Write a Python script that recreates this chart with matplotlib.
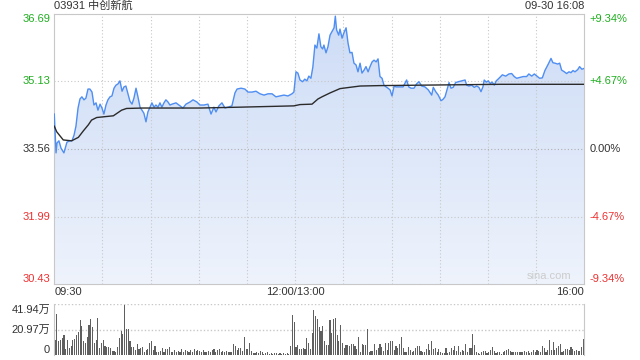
import numpy as np
import matplotlib
matplotlib.use("Agg")
import matplotlib.pyplot as plt
from matplotlib.colors import LinearSegmentedColormap
from matplotlib.transforms import blended_transform_factory

plt.rcParams['font.family'] = ['Liberation Sans', 'Noto Sans CJK SC', 'DejaVu Sans']

# ---- data ----
title = "03931 中创新航"
stamp = "09-30 16:08"
prev_close = 33.56
price_ticks = [36.69, 35.13, 33.56, 31.99, 30.43]
pct_labels = ["+9.34%", "+4.67%", "0.00%", "-4.67%", "-9.34%"]
time_labels = ["09:30", "12:00/13:00", "16:00"]
vol_ticks = [41.94, 20.97, 0]
vol_labels = ["41.94万", "20.97万", "0"]

# minutes since open (trading minutes, lunch removed) and last price
px_minute = [0, 1.1, 1.7, 2.9, 4.2, 6.0, 7.9, 9.8, 11.0, 12.3, 13.5, 14.8, 16.0, 17.2,
             18.5, 19.7, 21.0, 22.2, 23.5, 24.7, 26.0, 27.2, 28.5, 29.7, 30.9, 32.2,
             33.4, 34.7, 35.9, 37.2, 38.4, 39.7, 40.9, 42.2, 43.4, 44.6, 45.9, 47.1,
             48.4, 49.6, 50.9, 52.1, 53.4, 54.6, 55.8, 57.1, 58.3, 59.6, 60.8, 62.1,
             63.3, 64.6, 65.8, 67.0, 68.3, 69.5, 70.8, 72.0, 73.3, 75.8, 78.3, 80.1,
             82.0, 84.5, 86.4, 88.8, 90.7, 93.2, 95.7, 97.6, 99.4, 100.7, 102.5, 104.4,
             106.3, 108.2, 110.6, 112.5, 113.8, 116.3, 118.7, 120.6, 123.1, 125.6,
             128.1, 130.6, 133.1, 135.6, 138.0, 140.5, 143.0, 145.5, 148.0, 149.2,
             150.5, 151.7, 153.0, 154.6, 156.0, 157.3, 158.5, 159.8, 161.0, 162.3,
             163.5, 164.8, 166.0, 167.1, 167.9, 169.2, 170.4, 171.7, 172.9, 174.2,
             175.0, 175.8, 177.1, 177.9, 179.2, 180.4, 181.7, 182.9, 184.1, 185.4,
             186.6, 187.9, 189.1, 190.4, 191.6, 192.9, 194.1, 195.4, 196.6, 197.9,
             199.1, 200.4, 201.6, 202.8, 204.1, 205.3, 206.6, 207.8, 209.1, 210.3,
             211.6, 212.8, 215.3, 217.2, 219.4, 220.7, 222.1, 224.0, 225.6, 227.1,
             228.8, 230.8, 232.9, 235.0, 236.0, 237.5, 239.1, 240.8, 242.0, 243.3,
             244.5, 245.8, 247.0, 248.4, 249.9, 251.6, 253.7, 255.8, 256.8, 258.2,
             259.9, 261.5, 263.0, 264.4, 265.7, 266.9, 267.7, 269.0, 270.2, 271.5,
             272.7, 274.0, 275.2, 276.9, 279.0, 281.1, 283.1, 284.8, 286.4, 287.9,
             290.0, 292.0, 294.1, 295.5, 297.3, 298.9, 300.6, 302.2, 303.9, 305.5,
             307.6, 309.3, 310.5, 311.8, 313.4, 314.7, 315.9, 317.6, 319.0, 320.5,
             321.7, 323.0, 324.2, 325.9, 327.1, 328.5, 330]
px_price = [34.37, 33.47, 33.70, 33.75, 33.58, 33.47, 33.72, 33.75, 33.75, 33.88, 34.09,
            34.51, 34.72, 34.77, 34.70, 34.74, 34.95, 34.95, 34.88, 34.58, 34.63, 34.46,
            34.60, 34.51, 34.37, 34.58, 34.70, 34.77, 34.79, 34.97, 35.04, 35.07, 35.14,
            34.90, 35.00, 35.02, 34.84, 34.67, 34.60, 34.74, 34.97, 34.77, 34.53, 34.46,
            34.39, 34.19, 34.42, 34.53, 34.63, 34.53, 34.58, 34.53, 34.63, 34.53, 34.63,
            34.70, 34.65, 34.58, 34.60, 34.63, 34.56, 34.51, 34.60, 34.65, 34.70, 34.65,
            34.58, 34.58, 34.60, 34.37, 34.53, 34.42, 34.56, 34.63, 34.51, 34.53, 34.56,
            34.86, 34.95, 34.97, 34.95, 34.88, 34.88, 34.90, 34.84, 34.81, 34.84, 34.84,
            34.77, 34.79, 34.81, 34.79, 34.84, 34.88, 35.35, 35.32, 35.16, 35.12, 35.18,
            35.14, 35.25, 35.20, 35.46, 35.97, 35.90, 36.23, 35.93, 35.88, 35.97, 35.79,
            35.93, 36.20, 36.28, 36.37, 36.64, 36.32, 36.20, 36.34, 36.13, 36.26, 36.37,
            36.02, 35.79, 35.80, 35.55, 35.51, 35.35, 35.55, 35.32, 35.39, 35.47, 35.35,
            35.47, 35.58, 35.62, 35.58, 35.65, 35.24, 35.20, 35.04, 35.00, 34.97, 34.93,
            34.79, 35.02, 35.00, 35.00, 35.00, 35.16, 35.00, 34.97, 34.97, 35.07, 35.12,
            35.02, 35.00, 34.93, 34.81, 34.99, 34.89, 34.81, 34.68, 34.71, 34.77, 34.93,
            35.10, 34.97, 34.99, 35.10, 35.12, 35.14, 35.16, 35.04, 35.02, 35.04, 34.99,
            35.02, 34.99, 34.89, 35.00, 35.16, 35.11, 35.14, 35.08, 35.11, 35.04, 35.14,
            35.20, 35.28, 35.25, 35.30, 35.31, 35.24, 35.20, 35.22, 35.24, 35.24, 35.30,
            35.25, 35.30, 35.25, 35.20, 35.21, 35.38, 35.53, 35.66, 35.56, 35.55, 35.53,
            35.55, 35.39, 35.35, 35.31, 35.35, 35.33, 35.38, 35.35, 35.40, 35.47, 35.41,
            35.43]

# average price line
avg_minute = [0, 1.5, 5.6, 10.8, 15.0, 18.1, 21.2, 23.2, 26.4, 36.8, 41.9, 45.0, 55.0,
              90.7, 115.6, 149.2, 153.0, 160.5, 164.2, 166.7, 171.7, 177.9, 184.1,
              190.4, 202.8, 227.7, 277.5, 330]
avg_price = [34.09, 33.96, 33.77, 33.75, 33.83, 33.98, 34.12, 34.23, 34.29, 34.33, 34.46,
             34.50, 34.51, 34.51, 34.53, 34.56, 34.59, 34.60, 34.72, 34.77, 34.86, 34.96,
             34.99, 35.02, 35.03, 35.04, 35.06, 35.06]

# volume (10k shares), evenly spread across the session
volume = [12.4, 34, 11.9, 12.4, 13.8, 16.6, 4.7, 12.4, 5.5, 7.5, 12.4, 13, 16.6, 19.3, 29,
          24, 11.9, 10.2, 15.2, 24.8, 29.8, 23.5, 9.7, 12.4, 30.4, 5.5, 10.2, 12.4, 7.5,
          6.9, 6.9, 5.5, 3.3, 3.3, 2.8, 6.9, 13.8, 19.9, 17.4, 41.4, 21.3, 21.3, 11.9,
          6.3, 6.9, 4.1, 9.1, 4.7, 5.5, 6.3, 2.8, 4.1, 4.7, 10.2, 11.9, 4.1, 7.5, 2.8,
          2.2, 3.3, 5.5, 2.8, 4.7, 4.7, 6.9, 2.8, 2.2, 4.1, 2.8, 3.3, 2.2, 4.7, 2.8, 4.1,
          3.3, 2.8, 4.1, 2.8, 4.7, 3.6, 4.1, 3.3, 2.8, 4.1, 2.8, 2.2, 3.6, 2.8, 4.1, 4.7,
          2.8, 4.1, 4.7, 2.2, 3.3, 2.2, 3.3, 2.2, 2.8, 2.8, 9.1, 7.5, 4.1, 5.5, 5.5, 3.6,
          14.6, 4.7, 4.7, 10.2, 3.3, 1.9, 1.9, 2.2, 1.9, 3.3, 2.2, 0.8, 1.4, 2.2, 1.1,
          1.4, 1.1, 1.7, 1.4, 0.8, 1.7, 1.1, 1.7, 1.1, 1.9, 0.8, 7.5, 33, 27.6, 6.3, 8.3,
          4.7, 4.7, 5.5, 4.7, 13.8, 10.2, 4.7, 18.5, 37.3, 32.3, 29.5, 22.9, 20.1, 24,
          11.9, 8.3, 8.3, 29, 18.5, 29.8, 30.4, 16.6, 11.9, 24.8, 10.2, 5.5, 8.3, 8.3,
          7.5, 9.1, 9.1, 7.5, 4.7, 15.2, 2.8, 9.1, 8.3, 8.3, 21.5, 2.8, 3.3, 3.3, 9.1,
          4.1, 5.5, 9.1, 6.3, 3.6, 10.2, 4.1, 10.2, 11.9, 11.9, 4.1, 7.5, 5.5, 9.1, 15.2,
          6.1, 2.8, 2.8, 6.9, 4.1, 2.8, 3.6, 5.5, 7.5, 7.5, 3.6, 2.8, 2.8, 4.7, 9.1, 4.1,
          11.9, 4.7, 5.5, 2.8, 4.7, 2.8, 1.9, 1.9, 5.5, 1.9, 2.8, 5.5, 4.1, 7.5, 3.6,
          7.5, 2.8, 4.1, 3.6, 9.1, 2.8, 5.5, 5.5, 17.4, 8.3, 2.2, 1.4, 0.8, 2.8, 3.6, 3.6,
          1.4, 2.8, 4.1, 6.3, 3.3, 1.4, 2.2, 2.2, 0.8, 2.8, 3.6, 4.1, 4.7, 3.6, 2.8, 2.2,
          2.8, 2.2, 2.8, 2.2, 2.8, 3.3, 2.8, 3.3, 1.9, 2.2, 4.1, 2.2, 4.1, 3.6, 2.2, 7.5,
          5.5, 2.8, 4.1, 12.4, 4.1, 11, 4.1, 5.5, 7.5, 9.1, 2.8, 3.6, 4.7, 4.7, 4.1, 6.3,
          4.7, 3.6, 4.1, 3.3, 3.6, 6.9, 13]

GREEN = '#1fae1f'
RED = '#ee3030'
DARK = '#333333'
GRID = '#c8c8c8'

fig = plt.figure(figsize=(6.4, 3.6), dpi=100)
ax = fig.add_axes([0.0848, 0.2111, 0.8281, 0.75])
axv = fig.add_axes([0.0848, 0.0139, 0.8281, 0.1403])

n_min = 330
ymin, ymax = price_ticks[-1], price_ticks[0]

# gradient fill clipped under the price line
poly = ax.fill_between(px_minute, px_price, ymin, color='none', lw=0)
cmap = LinearSegmentedColormap.from_list('fill', ['#eef3fc', '#cddcf6'])
grad = np.linspace(0, 1, 256).reshape(-1, 1)
img = ax.imshow(grad, extent=[0, n_min, ymin, ymax], origin='lower', aspect='auto',
                cmap=cmap, zorder=1)
img.set_clip_path(poly.get_paths()[0], transform=ax.transData)

ax.plot(px_minute, px_price, color='#4f8ef2', lw=1.0, zorder=3)
ax.plot(avg_minute, avg_price, color='#2b2b2b', lw=1.0, zorder=4)

ax.set_xlim(0, n_min)
ax.set_ylim(ymin, ymax)
ax.set_xticks([])
ax.set_yticks([])
for s in ax.spines.values():
    s.set_color(GRID)
    s.set_linewidth(0.8)

# dotted grid
for v in price_ticks[1:-1]:
    ax.axhline(v, color='#b0b0b0' if v == prev_close else GRID, lw=0.8,
               ls=(0, (1, 2)), zorder=2)
for m in range(30, n_min, 30):
    ax.axvline(m, color=GRID, lw=0.8, ls=(0, (1, 2)), zorder=2)

# price / percent labels
tl = blended_transform_factory(ax.transAxes, ax.transData)
colors = [GREEN, GREEN, DARK, RED, RED]
vas = ['top', 'center', 'center', 'center', 'bottom']
for v, p, c, va in zip(price_ticks, pct_labels, colors, vas):
    ax.text(-0.008, v, f"{v:.2f}", transform=tl, ha='right', va=va, color=c, fontsize=8)
    ax.text(1.01, v, p, transform=tl, ha='left', va=va, color=c, fontsize=8)

ax.text(0.0, 1.012, title, transform=ax.transAxes, ha='left', va='bottom',
        fontsize=8, color=DARK)
ax.text(1.0, 1.012, stamp, transform=ax.transAxes, ha='right', va='bottom',
        fontsize=8, color=DARK)

tx = blended_transform_factory(ax.transData, ax.transAxes)
ax.text(0, -0.012, time_labels[0], transform=tx, ha='left', va='top', fontsize=8, color=DARK)
ax.text(150, -0.012, time_labels[1], transform=tx, ha='center', va='top', fontsize=8, color=DARK)
ax.text(n_min, -0.012, time_labels[2], transform=tx, ha='right', va='top', fontsize=8, color=DARK)
ax.text(0.975, 0.012, "sina.com", transform=ax.transAxes, ha='right', va='bottom',
        fontsize=8, color='#cccccc')

# volume panel
vx = np.linspace(0.5, n_min - 0.5, len(volume))
axv.bar(vx, volume, width=0.7, color='#5f5f5f', linewidth=0)
axv.set_xlim(0, n_min)
axv.set_ylim(0, vol_ticks[0])
axv.set_xticks([])
axv.set_yticks([])
for k in ['top', 'bottom']:
    axv.spines[k].set_visible(False)
for k in ['left', 'right']:
    axv.spines[k].set_color(GRID)
    axv.spines[k].set_linewidth(0.8)
for v in vol_ticks[:2]:
    axv.axhline(v, color=GRID, lw=1.0, ls=(0, (1, 1.5)), zorder=0)
tv = blended_transform_factory(axv.transAxes, axv.transData)
for v, lab, va in zip(vol_ticks, vol_labels, ['top', 'center', 'bottom']):
    axv.text(-0.008, v, lab, transform=tv, ha='right', va=va, fontsize=8, color=DARK)

fig.savefig("out.png", dpi=100)
